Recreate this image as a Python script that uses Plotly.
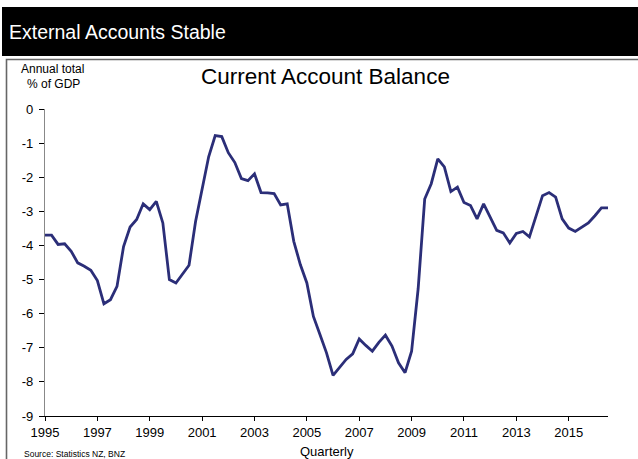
import plotly.graph_objects as go
import pandas as pd

# ---- data ----
start_quarter = "1995Q1"
balance_pct_gdp = [
    -3.70, -3.70, -3.97, -3.95, -4.17, -4.51, -4.61, -4.73, -5.03, -5.71,
    -5.59, -5.20, -4.03, -3.46, -3.24, -2.78, -2.95, -2.71, -3.34, -5.00,
    -5.10, -4.85, -4.58, -3.30, -2.37, -1.40, -0.78, -0.81, -1.28, -1.57,
    -2.04, -2.10, -1.90, -2.45, -2.46, -2.48, -2.81, -2.78, -3.88, -4.56,
    -5.10, -6.08, -6.61, -7.15, -7.81, -7.59, -7.34, -7.18, -6.74, -6.93,
    -7.10, -6.84, -6.63, -6.95, -7.44, -7.73, -7.10, -5.27, -2.64, -2.19,
    -1.46, -1.70, -2.42, -2.29, -2.74, -2.83, -3.22, -2.78, -3.15, -3.56,
    -3.63, -3.93, -3.65, -3.59, -3.75, -3.15, -2.54, -2.45, -2.58, -3.22,
    -3.49, -3.59, -3.46, -3.34, -3.13, -2.90, -2.90,
]
x_tick_years = [1995, 1997, 1999, 2001, 2003, 2005, 2007, 2009, 2011, 2013, 2015]
y_ticks = [0, -1, -2, -3, -4, -5, -6, -7, -8, -9]

quarters = pd.period_range(start_quarter, periods=len(balance_pct_gdp), freq="Q")
x_vals = [p.year + (p.quarter - 1) / 4 for p in quarters]

# ---- layout geometry (pixels) ----
W, H = 638, 459
ML, MR, MT, MB = 45, 30, 109, 43
PW, PH = W - ML - MR, H - MT - MB


def px(x):
    return (x - ML) / PW


def py(y):
    return (H - MB - y) / PH


FONT = "Liberation Sans, Arial, sans-serif"

fig = go.Figure()
fig.add_trace(go.Scatter(
    x=x_vals, y=balance_pct_gdp, mode="lines",
    line=dict(color="#2b2e78", width=2.8),
    hoverinfo="x+y", showlegend=False,
))

fig.update_layout(
    width=W, height=H,
    margin=dict(l=ML, r=MR, t=MT, b=MB),
    paper_bgcolor="white", plot_bgcolor="white",
    font=dict(family=FONT, color="black", size=13),
    xaxis=dict(
        range=[x_vals[0], x_vals[-1]],
        tickvals=x_tick_years, ticktext=[str(y) for y in x_tick_years],
        showgrid=False, zeroline=False,
        showline=True, linecolor="black", linewidth=1.3,
        ticks="outside", ticklen=4, tickcolor="black", tickwidth=1,
        tickfont=dict(size=13, family=FONT),
    ),
    yaxis=dict(
        range=[-9, 0],
        tickvals=y_ticks, ticktext=[str(v) for v in y_ticks],
        showgrid=False, zeroline=False,
        showline=True, linecolor="#888888", linewidth=1.3,
        ticks="outside", ticklen=5, tickcolor="black", tickwidth=1,
        tickfont=dict(size=13, family=FONT),
        ticklabelstandoff=3,
    ),
    shapes=[
        dict(type="rect", xref="paper", yref="paper",
             x0=px(2), x1=px(645), y0=py(7), y1=py(56),
             fillcolor="black", line=dict(width=0), layer="below"),
        dict(type="rect", xref="paper", yref="paper",
             x0=px(6.5), x1=px(700), y0=py(59.5), y1=py(520),
             fillcolor="rgba(0,0,0,0)", line=dict(color="#666666", width=1.6)),
    ],
    annotations=[
        dict(text="External Accounts Stable", xref="paper", yref="paper",
             x=px(7), y=py(32), xanchor="left", yanchor="middle", showarrow=False,
             font=dict(family=FONT, size=19.5, color="white")),
        dict(text="Current Account Balance", xref="paper", yref="paper",
             x=px(325), y=py(77), xanchor="center", yanchor="middle", showarrow=False,
             font=dict(family=FONT, size=22.5, color="black")),
        dict(text="Annual total", xref="paper", yref="paper",
             x=px(52), y=py(69), xanchor="center", yanchor="middle", showarrow=False,
             font=dict(family=FONT, size=12, color="black")),
        dict(text="% of GDP", xref="paper", yref="paper",
             x=px(53), y=py(84), xanchor="center", yanchor="middle", showarrow=False,
             font=dict(family=FONT, size=12, color="black")),
        dict(text="Quarterly", xref="paper", yref="paper",
             x=px(327), y=py(451), xanchor="center", yanchor="middle", showarrow=False,
             font=dict(family=FONT, size=13, color="black")),
        dict(text="Source: Statistics NZ, BNZ", xref="paper", yref="paper",
             x=px(22), y=py(453.5), xanchor="left", yanchor="middle", showarrow=False,
             font=dict(family=FONT, size=8.5, color="black")),
    ],
)

fig.write_html(
    "out.html",
    config={"displayModeBar": False},
    post_script="document.body.style.margin='0';document.body.style.overflow='hidden';",
)
